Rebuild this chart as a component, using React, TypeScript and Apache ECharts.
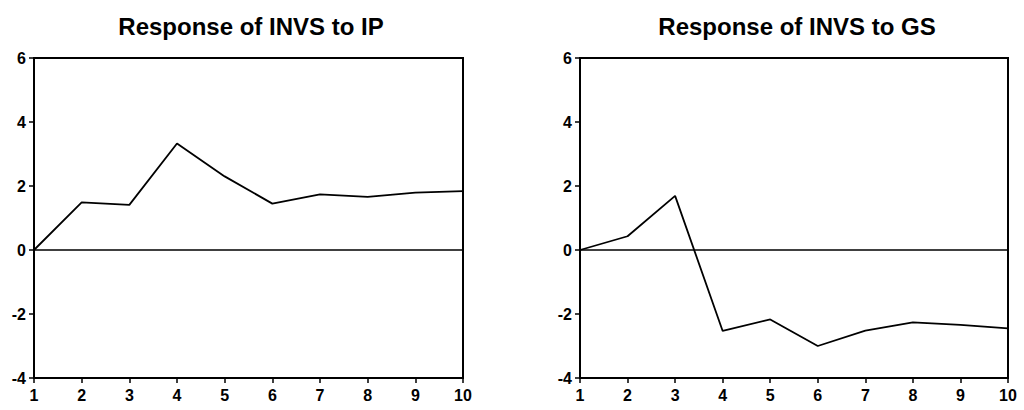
import React, { useEffect, useRef } from "react";
import * as echarts from "echarts";

const periods = ["1", "2", "3", "4", "5", "6", "7", "8", "9", "10"];
const responseToIP = [0, 1.49, 1.41, 3.33, 2.3, 1.45, 1.74, 1.66, 1.79, 1.84];
const responseToGS = [0, 0.43, 1.69, -2.53, -2.17, -3.0, -2.52, -2.26, -2.34, -2.45];
const titles = ["Response of INVS to IP", "Response of INVS to GS"];
const yMin = -4;
const yMax = 6;
const yInterval = 2;

export default function App() {
  const ref = useRef<HTMLDivElement>(null);
  useEffect(() => {
    if (!ref.current) return;
    const chart = echarts.init(ref.current, null, { renderer: "svg" });
    const grids = [
      { left: 34, right: 561, top: 58, bottom: 32 },
      { left: 580, right: 16, top: 58, bottom: 32 },
    ];
    const font = "Liberation Sans";
    const seriesData = [responseToIP, responseToGS];
    chart.setOption({
      animation: false,
      backgroundColor: "#ffffff",
      title: titles.map((t, i) => ({
        text: t,
        left: i === 0 ? 246 : 792,
        top: 9,
        textAlign: "center",
        textStyle: { fontFamily: font, fontSize: 24, fontWeight: "bold", color: "#000" },
      })),
      grid: grids.map((g) => ({
        ...g,
        show: true,
        borderColor: "#000",
        borderWidth: 2,
        backgroundColor: "transparent",
      })),
      xAxis: grids.map((_, i) => ({
        type: "category",
        gridIndex: i,
        data: periods,
        boundaryGap: false,
        axisLine: { show: true, onZero: false, lineStyle: { color: "#000", width: 2 } },
        axisTick: { show: true, length: 5, inside: false, lineStyle: { color: "#000", width: 1.5 } },
        axisLabel: { color: "#000", fontFamily: font, fontSize: 16, fontWeight: "bold", margin: 9 },
        splitLine: { show: false },
      })),
      yAxis: grids.map((_, i) => ({
        type: "value",
        gridIndex: i,
        min: yMin,
        max: yMax,
        interval: yInterval,
        axisLine: { show: true, lineStyle: { color: "#000", width: 2 } },
        axisTick: { show: true, length: 5, lineStyle: { color: "#000", width: 1.5 } },
        axisLabel: { color: "#000", fontFamily: font, fontSize: 16, fontWeight: "bold", margin: 8 },
        splitLine: { show: false },
      })),
      series: seriesData.map((d, i) => ({
        type: "line",
        xAxisIndex: i,
        yAxisIndex: i,
        data: d,
        symbol: "none",
        lineStyle: { color: "#000", width: 1.8 },
        markLine: {
          silent: true,
          symbol: "none",
          label: { show: false },
          lineStyle: { color: "#000", width: 1.5, type: "solid" },
          data: [{ yAxis: 0 }],
        },
      })),
    });
    return () => chart.dispose();
  }, []);
  return (
    <div
      ref={ref}
      style={{ position: "fixed", left: 0, top: 0, width: 1024, height: 410, background: "#fff" }}
    />
  );
}
